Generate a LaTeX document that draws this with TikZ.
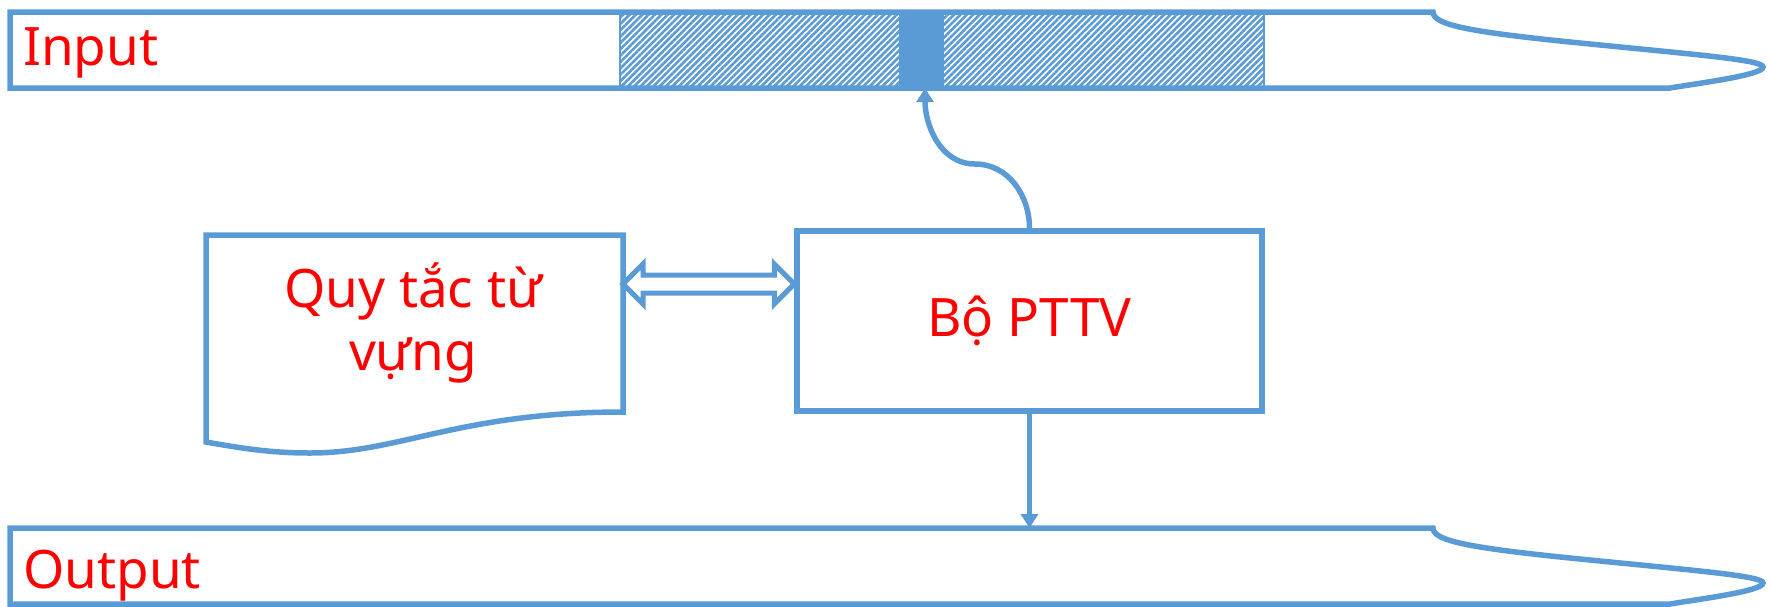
\documentclass[tikz,border=0pt]{standalone}
\usepackage{fontspec}
\setmainfont{Noto Sans}
\usetikzlibrary{patterns.meta,arrows.meta,calc}
\definecolor{bl}{RGB}{91,155,213}
\begin{document}
\begin{tikzpicture}[x=1pt,y=-1pt,
  bd/.style={draw=bl,line width=5.5pt},
  lbl/.style={text=red,font=\fontsize{53}{63}\selectfont,inner sep=0pt},
  tip/.style={-{Triangle[length=14pt,width=17pt]}}]
\useasboundingbox (0,0) rectangle (1770,606);
% Input band
\begin{scope}[shift={(0,12)}]
  \draw[bd,fill=white] (10,0) -- (1433,0) .. controls (1433,13) and (1470,20) .. (1580,31)
    .. controls (1700,43) and (1763,48) .. (1763,55)
    .. controls (1763,63) and (1700,71) .. (1670,76) -- (10,76) -- cycle;
\end{scope}
\node[pattern={Lines[angle=45,distance=4.5pt,line width=2.6pt]},pattern color=bl,draw=bl,line width=2.5pt,
  minimum width=644pt,minimum height=76pt,inner sep=0pt] (hatch) at (942,50) {};
\node[fill=bl,minimum width=45pt,minimum height=76pt,inner sep=0pt] (bar) at (921,50) {};
\node[lbl,anchor=base west] (intext) at (23,65) {Input};
% Output band
\begin{scope}[shift={(0,528)}]
  \draw[bd,fill=white] (10,0) -- (1433,0) .. controls (1433,13) and (1470,20) .. (1580,31)
    .. controls (1700,43) and (1763,48) .. (1763,55)
    .. controls (1763,63) and (1700,71) .. (1670,76) -- (10,76) -- cycle;
\end{scope}
\coordinate (outtop) at (1030,528);
\node[lbl,anchor=base west] (outtext) at (23,588) {Output};
% Document shape
\draw[bd,fill=white] (206,235) -- (623,235) -- (623,412)
  .. controls (460,412) and (400,453) .. (310,453)
  .. controls (270,453) and (240,448) .. (206,442) -- cycle;
\node[lbl,align=center] (doctext) at (413,323) {Quy tắc từ\\vựng};
\coordinate (L) at (623,284);
% Box
\node[bd,lbl,minimum width=465pt,minimum height=180pt] (box) at (1029.5,321) {Bộ PTTV};
\coordinate (R) at (box.west |- L);
% double arrow
\draw[draw=bl,line width=5pt,line join=miter] (L) -- ++(20,-20) -- ++(0,11) -- ($(R)+(-20,-9)$)
  -- ++(0,-11) -- (R) -- ++(-20,20) -- ++(0,-11) -- ($(L)+(20,9)$) -- ++(0,11) -- cycle;
% connectors
\coordinate (mid) at (975,164);
\draw[bd,tip] (box.north) to[out=90,in=0] (mid) to[out=180,in=-90] ($(bar.south)+(4,0)$);
\draw[bd,tip] (box.south) -- (box.south |- outtop);
\end{tikzpicture}
\end{document}
